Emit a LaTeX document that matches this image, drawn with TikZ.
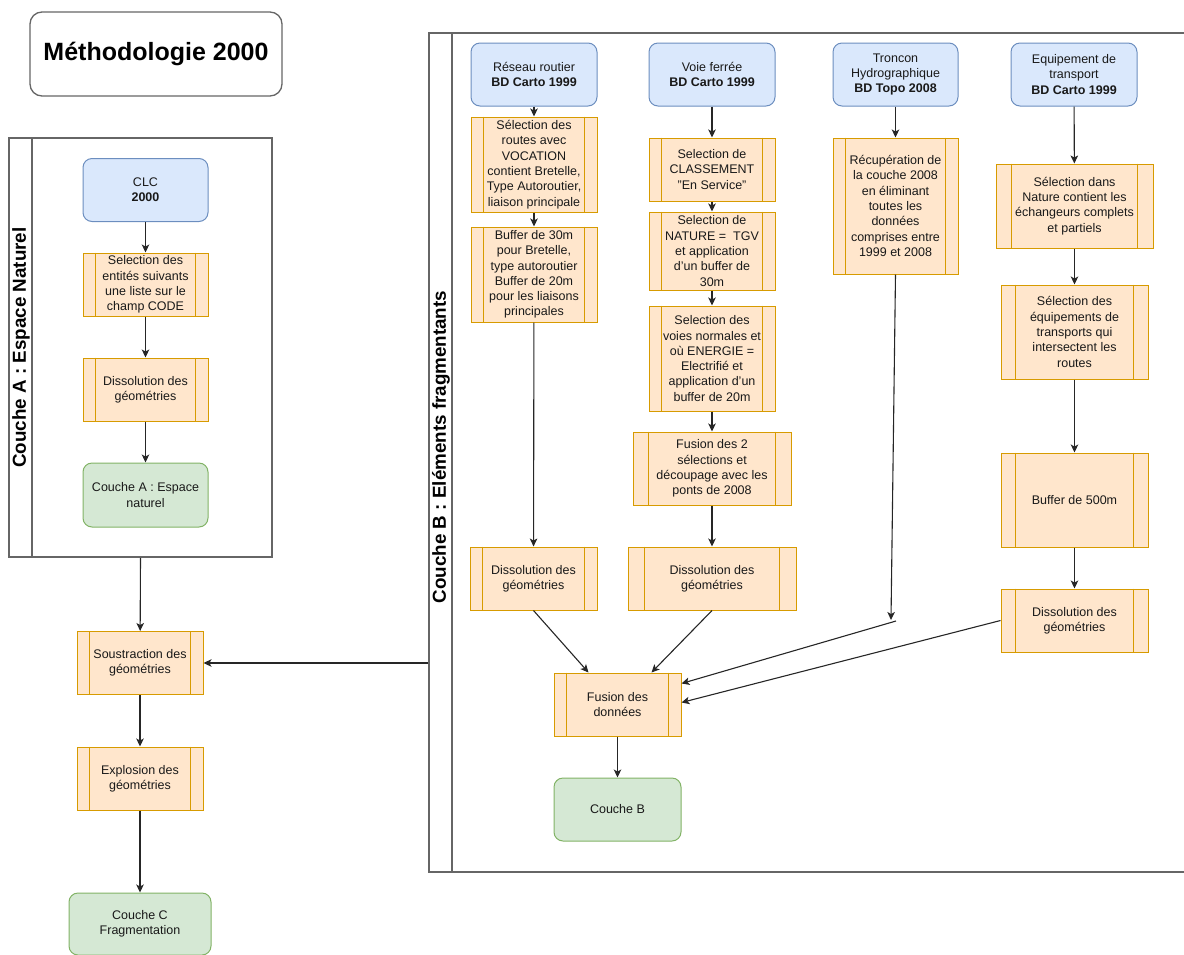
\documentclass[tikz,border=0pt]{standalone}
\usepackage{fontspec}
\setmainfont{Liberation Sans}
\usetikzlibrary{arrows.meta,calc}
\definecolor{srcfill}{HTML}{DAE8FC}
\definecolor{srcline}{HTML}{6C8EBF}
\definecolor{procfill}{HTML}{FFE6CC}
\definecolor{procline}{HTML}{D79B00}
\definecolor{resfill}{HTML}{D5E8D4}
\definecolor{resline}{HTML}{82B366}
\definecolor{poolline}{HTML}{666666}
\begin{document}
\begin{tikzpicture}[x=1pt,y=-1pt]
		\tikzstyle{every node}=[font=\fontsize{12.5}{15.3}\selectfont, text=black!90, align=center, inner sep=1pt];
		\tikzstyle{srcbox}=[draw=srcline, fill=srcfill, rounded corners=9pt, line width=1pt, minimum width=126pt, minimum height=63pt];
		\tikzstyle{procbox}=[draw=procline, fill=procfill, line width=1pt, minimum width=126pt, minimum height=63pt];
		\tikzstyle{resbox}=[draw=resline, fill=resfill, rounded corners=9pt, line width=1pt, minimum width=127pt, minimum height=63pt];
		\tikzstyle{pool}=[draw=poolline, line width=1.6pt];
		\tikzstyle{flow}=[-{Stealth[length=8pt,width=7.5pt,inset=2pt]}, line width=1.1pt, black!85];
		\useasboundingbox (0,0) rectangle (1184,954);
		
		% titre et couloirs
		\node[draw=poolline, line width=1.3pt, rounded corners=12pt, minimum width=252pt, minimum height=84pt, font=\bfseries\fontsize{25}{29}\selectfont, text=black] (title) at (156,54) {Méthodologie 2000};
		\node[pool, minimum width=263pt, minimum height=419pt] (poolA) at (140.5,347.5) {};
		\draw[pool] ([xshift=24pt]poolA.north west) -- ([xshift=24pt]poolA.south west);
		\node[rotate=90, font=\bfseries\fontsize{18.8}{22}\selectfont, text=black] (labA) at (21,347.5) {Couche A : Espace Naturel};
		\node[pool, minimum width=780pt, minimum height=839pt] (poolB) at (819,452.5) {};
		\draw[pool] ([xshift=24pt]poolB.north west) -- ([xshift=24pt]poolB.south west);
		\node[rotate=90, font=\bfseries\fontsize{18.8}{22}\selectfont, text=black] (labB) at (441,447) {Couche B : Eléments fragmentants};
		
		% couche A
		\node[srcbox, minimum width=125pt] (clc) at (145.5,190) {CLC\\\textbf{2000}};
		\node[procbox, minimum width=125pt] (selA) at (145.5,284.5) {Selection des\\entités suivants\\une liste sur le\\champ CODE};
		\node[procbox, minimum width=125pt] (dissA) at (145.5,389.5) {Dissolution des\\géométries};
		\node[resbox, minimum width=125pt, minimum height=64pt] (coucheA) at (145.5,495) {Couche A : Espace\\naturel};
		\node[procbox] (sous) at (140,663) {Soustraction des\\géométries};
		\node[procbox] (explo) at (140,778.5) {Explosion des\\géométries};
		\node[resbox, minimum width=142pt, minimum height=62pt] (coucheC) at (140,924) {Couche C\\Fragmentation};
		
		% couche B
		\node[srcbox] (route) at (534,74.5) {Réseau routier\\\textbf{BD Carto 1999}};
		\node[srcbox] (fer) at (712,74.5) {Voie ferrée\\\textbf{BD Carto 1999}};
		\node[srcbox, minimum width=125pt] (hydro) at (895.5,74.5) {Troncon\\Hydrographique\\\textbf{BD Topo 2008}};
		\node[srcbox] (equip) at (1074,74.5) {Equipement de\\transport\\\textbf{BD Carto 1999}};
		
		\node[procbox, minimum height=95pt] (selR) at (534,164.5) {Sélection des\\routes avec\\VOCATION\\contient Bretelle,\\Type Autoroutier,\\liaison principale};
		\node[procbox, minimum height=95pt] (bufR) at (534,274.5) {Buffer de 30m\\pour Bretelle,\\type autoroutier\\Buffer de 20m\\pour les liaisons\\principales};
		\node[procbox, minimum width=127pt] (dissR) at (533.5,578.5) {Dissolution des\\géométries};
		
		\node[procbox] (classF) at (712,169.5) {Selection de\\CLASSEMENT\\"En Service"};
		\node[procbox, minimum height=78pt] (tgvF) at (712,251) {Selection de\\NATURE =\ \ TGV\\et application\\d'un buffer de\\30m};
		\node[procbox, minimum height=105pt] (normF) at (712,358.5) {Selection des\\voies normales et\\où ENERGIE =\\Electrifié et\\application d'un\\buffer de 20m};
		\node[procbox, minimum width=158pt, minimum height=73pt] (fusF) at (712,468.5) {Fusion des 2\\sélections et\\découpage avec les\\ponts de 2008};
		\node[procbox, minimum width=168pt] (dissF) at (712,578.5) {Dissolution des\\géométries};
		
		\node[procbox, minimum width=125pt, minimum height=136pt] (recH) at (895.5,206) {Récupération de\\la couche 2008\\en éliminant\\toutes les\\données\\comprises entre\\1999 et 2008};
		\coordinate (hyA) at (891,620);
		\coordinate (hyB) at (896,621);
		
		\node[procbox, minimum width=157pt, minimum height=84pt] (selE) at (1074.5,206) {Sélection dans\\Nature contient les\\échangeurs complets\\et partiels};
		\node[procbox, minimum width=147pt, minimum height=94pt] (interE) at (1074.5,332) {Sélection des\\équipements de\\transports qui\\intersectent les\\routes};
		\node[procbox, minimum width=147pt, minimum height=94pt] (bufE) at (1074.5,500) {Buffer de 500m};
		\node[procbox, minimum width=147pt] (dissE) at (1074.5,620.5) {Dissolution des\\géométries};
		
		\node[procbox, minimum width=127pt] (fusD) at (617.5,704.5) {Fusion des\\données};
		\node[resbox] (coucheB) at (617.5,809.5) {Couche B};
		
		% barres des processus
		\foreach \n in {selA,dissA,sous,explo,selR,bufR,dissR,classF,tgvF,normF,fusF,dissF,recH,selE,interE,bufE,dissE,fusD}
			\draw[procline, line width=1pt]
			($(\n.north west)!0.1!(\n.north east)$) -- ($(\n.south west)!0.1!(\n.south east)$)
			($(\n.north east)!0.1!(\n.north west)$) -- ($(\n.south east)!0.1!(\n.south west)$);
		
		\draw[flow] (clc) -- (selA);
		\draw[flow] (selA) -- (dissA);
		\draw[flow] (dissA) -- (coucheA);
		\draw[flow] (poolA.south) -- (sous);
		\draw[flow] (sous.east -| poolB.west) -- (sous.east);
		\draw[flow] (sous) -- (explo);
		\draw[flow] (explo) -- (coucheC);
		
		\draw[flow] (route) -- (selR);
		\draw[flow] (selR) -- (bufR);
		\draw[flow] (bufR) -- (dissR);
		\draw[flow] (fer) -- (classF);
		\draw[flow] (classF) -- (tgvF);
		\draw[flow] (tgvF) -- (normF);
		\draw[flow] (normF) -- (fusF);
		\draw[flow] (fusF) -- (dissF);
		\draw[flow] (hydro) -- (recH);
		\draw[flow] (recH.south) -- (hyA);
		\draw[flow] (equip) -- (selE);
		\draw[flow] (selE) -- (interE);
		\draw[flow] (interE) -- (bufE);
		\draw[flow] (bufE) -- (dissE);
		
		\draw[flow] (dissR.south) -- ([xshift=-29pt]fusD.north);
		\draw[flow] (dissF.south) -- ([xshift=34pt]fusD.north);
		\draw[flow] (hyB) -- ([yshift=21pt]fusD.east);
		\draw[flow] (dissE.west) -- ([yshift=2pt]fusD.east);
		\draw[flow] (fusD) -- (coucheB);
	\end{tikzpicture}
\end{document}
